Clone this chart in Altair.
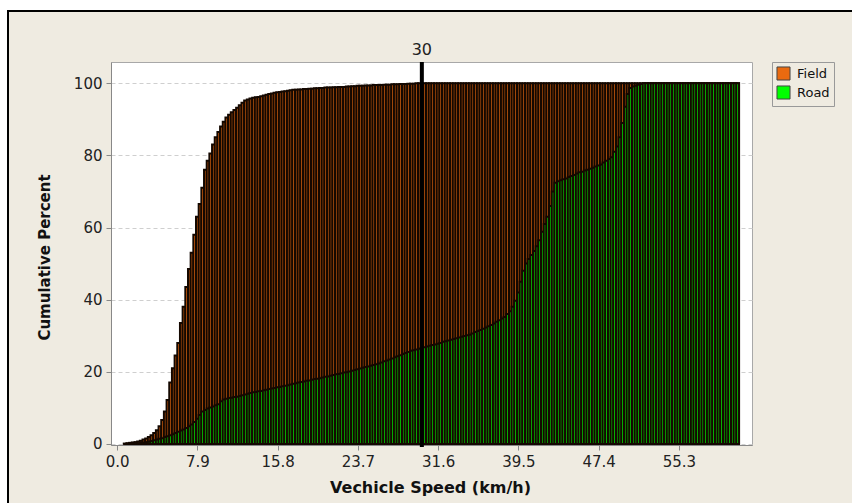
import altair as alt
import numpy as np
import pandas as pd

SERIES = ["Field", "Road"]
COLORS = ["#EA6A10", "#00FF00"]
BIN_WIDTH = 7.9 / 30
FIRST_BIN = 3

FIELD_PCT = [
    0.1, 0.2, 0.3, 0.4, 0.5, 0.7, 0.9, 1.2, 1.5, 1.9,
    2.4, 3.0, 3.8, 4.9, 6.6, 9.0, 12.2, 17.0, 21.0, 24.5,
    28.0, 33.5, 38.0, 43.5, 48.5, 53.0, 58.0, 63.0, 66.5, 71.0,
    76.0, 78.5, 80.5, 83.0, 85.0, 86.5, 88.0, 89.3, 90.5, 91.3,
    92.0, 92.6, 93.2, 93.9, 94.6, 95.2, 95.5, 95.8, 96.0, 96.1,
    96.2, 96.4, 96.6, 96.8, 97.0, 97.2, 97.4, 97.5, 97.6, 97.7,
    97.8, 97.9, 98.1, 98.2, 98.2, 98.3, 98.3, 98.4, 98.4, 98.5,
    98.5, 98.6, 98.6, 98.7, 98.7, 98.8, 98.8, 98.8, 98.9, 98.9,
    99.0, 99.0, 99.0, 99.1, 99.1, 99.2, 99.2, 99.3, 99.3, 99.3,
    99.4, 99.4, 99.4, 99.5, 99.5, 99.5, 99.5, 99.6, 99.6, 99.6,
    99.7, 99.7, 99.7, 99.8, 99.8, 99.8, 99.9, 99.9, 99.9,
    100, 100, 100, 100, 100, 100, 100, 100, 100, 100,
    100, 100, 100, 100, 100, 100, 100, 100, 100, 100,
    100, 100, 100, 100, 100, 100, 100, 100, 100, 100,
    100, 100, 100, 100, 100, 100, 100, 100, 100, 100,
    100, 100, 100, 100, 100, 100, 100, 100, 100, 100,
    100, 100, 100, 100, 100, 100, 100, 100, 100, 100,
    100, 100, 100, 100, 100, 100, 100, 100, 100, 100,
    100, 100, 100, 100, 100, 100, 100, 100, 100, 100,
    100, 100, 100, 100, 100, 100, 100, 100, 100, 100,
    100, 100, 100, 100, 100, 100, 100, 100, 100, 100,
    100, 100, 100, 100, 100, 100, 100, 100, 100, 100,
    100, 100, 100, 100, 100, 100, 100, 100, 100, 100,
    100,
]

ROAD_PCT = [
    0.0, 0.05, 0.1, 0.1, 0.2, 0.2, 0.3, 0.4, 0.5, 0.6,
    0.8, 1.0, 1.2, 1.4, 1.6, 1.9, 2.1, 2.4, 2.7, 3.0,
    3.4, 3.7, 4.0, 4.4, 4.9, 5.4, 6.1, 7.0, 8.0, 9.0,
    9.4, 9.8, 10.1, 10.4, 10.7, 11.0, 11.8, 12.3, 12.5, 12.7,
    12.8, 13.0, 13.1, 13.3, 13.5, 13.7, 13.9, 14.1, 14.3, 14.4,
    14.6, 14.7, 14.9, 15.0, 15.2, 15.4, 15.5, 15.7, 15.8, 16.0,
    16.1, 16.3, 16.5, 16.7, 16.8, 17.0, 17.2, 17.3, 17.5, 17.6,
    17.8, 18.0, 18.1, 18.2, 18.4, 18.6, 18.7, 18.9, 19.1, 19.3,
    19.4, 19.6, 19.8, 19.9, 20.1, 20.3, 20.5, 20.7, 20.9, 21.1,
    21.3, 21.5, 21.7, 21.9, 22.1, 22.3, 22.6, 22.9, 23.1, 23.4,
    23.7, 24.0, 24.3, 24.6, 24.9, 25.2, 25.5, 25.8, 26.0, 26.2,
    26.4, 26.6, 26.8, 27.0, 27.2, 27.4, 27.6, 27.8, 28.0, 28.3,
    28.5, 28.7, 28.9, 29.1, 29.3, 29.5, 29.7, 29.9, 30.1, 30.3,
    30.6, 31.0, 31.3, 31.6, 31.9, 32.3, 32.6, 33.0, 33.4, 33.9,
    34.3, 34.8, 35.2, 36.0, 36.8, 38.0, 39.7, 42.0, 45.0, 48.0,
    50.0, 51.3, 52.4, 53.5, 54.8, 56.5, 58.8, 61.0, 63.0, 66.0,
    70.0, 72.4, 72.8, 73.1, 73.4, 73.6, 74.0, 74.3, 74.6, 75.0,
    75.3, 75.5, 75.8, 76.0, 76.3, 76.6, 76.9, 77.2, 77.5, 78.0,
    78.5, 79.0, 79.5, 81.0, 82.5, 85.0, 89.0, 93.5, 97.0, 98.7,
    99.1, 99.3, 99.6, 99.8,
    100, 100, 100, 100, 100, 100, 100, 100, 100, 100,
    100, 100, 100, 100, 100, 100, 100, 100, 100, 100,
    100, 100, 100, 100, 100, 100, 100, 100, 100, 100,
    100, 100, 100, 100, 100, 100,
]

X_TICKS = [0.0, 7.9, 15.8, 23.7, 31.6, 39.5, 47.4, 55.3]
Y_TICKS = [0, 20, 40, 60, 80, 100]
REF_SPEED = 30

W, H = 641, 383
BG = "#EFEBE1"

rows = []
for name, vals in zip(SERIES, [FIELD_PCT, ROAD_PCT]):
    for i, v in enumerate(vals):
        c = (i + FIRST_BIN) * BIN_WIDTH
        rows.append({"series": name, "lo": c - BIN_WIDTH / 2, "hi": c + BIN_WIDTH / 2,
                     "pct": v, "base": 0})
df = pd.DataFrame(rows)

xs = alt.Scale(domain=[-0.6, 62.5], nice=False, zero=False, padding=0)
ys = alt.Scale(domain=[-0.3, 105.9], nice=False, padding=0)

bars = alt.Chart(df).mark_bar(stroke="#140800", strokeWidth=2.0).encode(
    x=alt.X("lo:Q", scale=xs,
            axis=alt.Axis(values=X_TICKS, format=".1f", grid=False,
                          title="Vechicle Speed (km/h)", titleX=319, titleY=42,
                          titleAlign="center", titleBaseline="middle",
                          titleFontSize=16, labelPadding=4)),
    x2="hi:Q",
    y=alt.Y("pct:Q", scale=ys, stack=None,
            axis=alt.Axis(values=Y_TICKS, grid=True, gridDash=[4, 3],
                          gridColor="#cfcfcf", title="Cumulative Percent",
                          titleX=-67, titleY=195, titleAngle=270,
                          titleAlign="center", titleBaseline="middle",
                          labelPadding=4)),
    y2="base:Q",
    color=alt.Color("series:N", scale=alt.Scale(domain=SERIES, range=COLORS),
                    legend=alt.Legend(title=None, orient="none", legendX=661, legendY=0,
                                      symbolType="square", symbolSize=170,
                                      symbolStrokeColor="#444", symbolStrokeWidth=1,
                                      symbolOpacity=1,
                                      labelFont="DejaVu Sans", labelFontSize=13,
                                      labelColor="#111", strokeColor="#999",
                                      fillColor=BG, padding=4, rowPadding=0,
                                      labelOffset=6)),
    order=alt.Order("series:N"),
)

ref_df = pd.DataFrame({"lo": [REF_SPEED], "label": [str(REF_SPEED)]})
rule = alt.Chart(ref_df).mark_rule(color="black", strokeWidth=4).encode(
    x="lo:Q", y=alt.value(0), y2=alt.value(H + 2)
)
label = alt.Chart(ref_df).mark_text(font="DejaVu Sans", fontSize=16, color="#222").encode(
    x="lo:Q", y=alt.value(-12), text="label:N"
)

one = pd.DataFrame({"k": [0]})
outer_white = alt.Chart(one).mark_rect(fillOpacity=0, stroke="white", strokeWidth=14).encode(
    x=alt.value(-110), y=alt.value(-58), x2=alt.value(1000), y2=alt.value(1000)
)
outer_black = alt.Chart(one).mark_rect(fillOpacity=0, stroke="black", strokeWidth=2).encode(
    x=alt.value(-103), y=alt.value(-51), x2=alt.value(1000), y2=alt.value(1000)
)

chart = alt.layer(bars, rule, label, outer_white, outer_black).properties(
    width=W, height=H,
    padding={"left": 111, "top": 62, "right": 100, "bottom": 58},
    autosize=alt.AutoSizeParams(type="none"),
    background=BG,
).configure_view(
    fill="white", stroke="#a8a8a8", strokeWidth=1
).configure_axis(
    labelFont="DejaVu Sans", labelFontSize=15, labelColor="#222",
    tickColor="#888", domainColor="#888", tickSize=5,
    titleFont="DejaVu Sans", titleFontWeight="bold", titleFontSize=15, titleColor="#111",
)

chart.save("out.html", embed_options={"renderer": "svg", "actions": False})
